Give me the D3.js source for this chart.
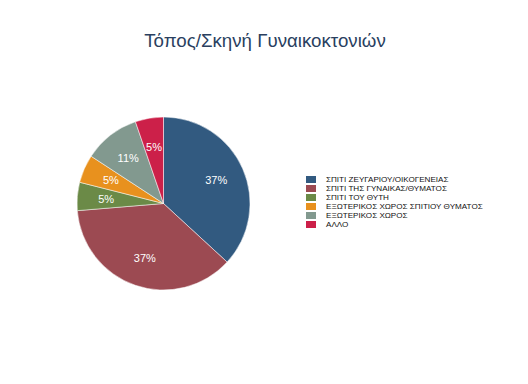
<!DOCTYPE html>
<html><head><meta charset="utf-8">
<script src="https://cdn.jsdelivr.net/npm/d3@7"></script>
<style>body{margin:0;background:#fff}</style>
</head><body>
<svg id="c" width="528" height="384"></svg>
<script>
const title = "Τόπος/Σκηνή Γυναικοκτονιών";
const categories = ["ΣΠΙΤΙ ΖΕΥΓΑΡΙΟΥ/ΟΙΚΟΓΕΝΕΙΑΣ","ΣΠΙΤΙ ΤΗΣ ΓΥΝΑΙΚΑΣ/ΘΥΜΑΤΟΣ","ΣΠΙΤΙ ΤΟΥ ΘΥΤΗ","ΕΞΩΤΕΡΙΚΟΣ ΧΩΡΟΣ ΣΠΙΤΙΟΥ ΘΥΜΑΤΟΣ","ΕΞΩΤΕΡΙΚΟΣ ΧΩΡΟΣ","ΑΛΛΟ"];
const values = [7,7,1,1,2,1];
const colors = ["#325a80","#9c4a52","#6b8a47","#e8911e","#82998f","#cc2049"];

const svg = d3.select("#c");
const font = "'Liberation Sans', Arial, sans-serif";
svg.append("text").attr("x",265).attr("y",47).attr("text-anchor","middle")
  .attr("font-family",font).attr("font-size",18.7).attr("fill","#2a3f5f").text(title);

const cx=163.5, cy=203.5, R=86.5;
const total = d3.sum(values);
const pie = d3.pie().sort(null).value(d=>d)(values);
const arc = d3.arc().innerRadius(0).outerRadius(R);
const g = svg.append("g").attr("transform",`translate(${cx},${cy})`);
g.selectAll("path").data(pie).join("path").attr("d",arc)
  .attr("fill",(d,i)=>colors[i]).attr("stroke","#fff").attr("stroke-width",0.5);
const lab = d3.arc().innerRadius(57.5).outerRadius(57.5);
g.selectAll("text").data(pie).join("text")
  .attr("transform",d=>`translate(${lab.centroid(d)})`)
  .attr("dy","0.36em").attr("text-anchor","middle")
  .attr("font-family",font).attr("font-size",11).attr("fill","#fff")
  .text(d=>Math.round(d.value/total*100)+"%");

const lg = svg.append("g");
categories.forEach((c,i)=>{
  const y = 179.5 + i*9;
  lg.append("rect").attr("x",306).attr("y",y-3.5).attr("width",10).attr("height",7).attr("fill",colors[i]);
  lg.append("text").attr("x",326).attr("y",y).attr("dy","0.35em")
    .attr("font-family",font).attr("font-size",8.1).attr("fill","#111").text(c);
});
</script>
</body></html>
